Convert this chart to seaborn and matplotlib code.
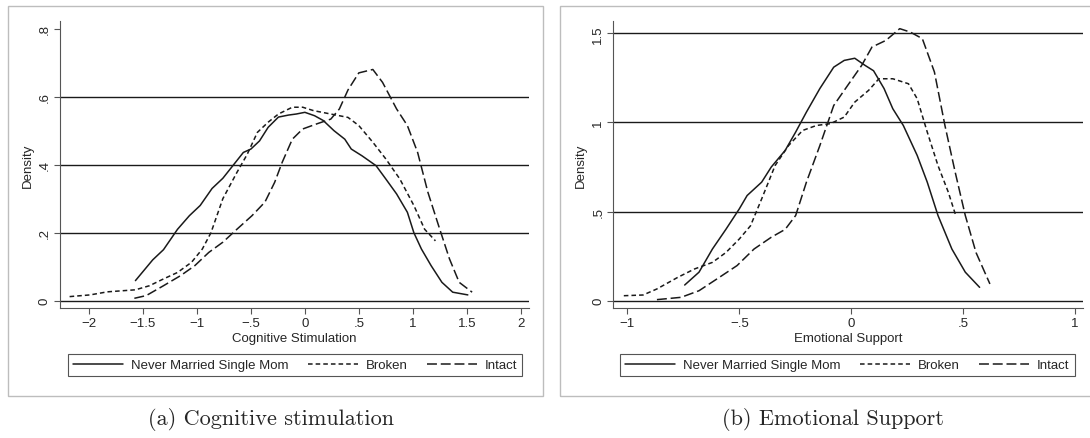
import seaborn as sns
import matplotlib.pyplot as plt
import pandas as pd
from matplotlib.lines import Line2D
from matplotlib.patches import Rectangle

# ---- data (kernel density curves) ----
groups = ['Never Married Single Mom', 'Broken', 'Intact']

# (a) Cognitive stimulation
cog_never_x = [-1.57, -1.41, -1.31, -1.18, -1.07, -0.97, -0.86, -0.76, -0.66, -0.57, -0.50,
               -0.42, -0.34, -0.245, -0.15, -0.08, 0.0, 0.09, 0.17, 0.27, 0.37, 0.43, 0.53,
               0.66, 0.75, 0.85, 0.95, 1.01, 1.08, 1.17, 1.27, 1.37, 1.51]
cog_never_y = [0.059, 0.12, 0.15, 0.21, 0.25, 0.28, 0.33, 0.36, 0.40, 0.436, 0.446,
               0.47, 0.51, 0.54, 0.546, 0.549, 0.554, 0.544, 0.53, 0.50, 0.475, 0.446, 0.426,
               0.397, 0.358, 0.314, 0.26, 0.20, 0.152, 0.103, 0.054, 0.025, 0.017]
cog_broken_x = [-2.18, -1.99, -1.83, -1.57, -1.44, -1.31, -1.18, -1.05, -0.95, -0.87, -0.76,
                -0.63, -0.535, -0.44, -0.34, -0.245, -0.116, -0.02, 0.08, 0.24, 0.40, 0.50,
                0.63, 0.75, 0.88, 1.01, 1.11, 1.21]
cog_broken_y = [0.012, 0.017, 0.026, 0.032, 0.044, 0.064, 0.083, 0.113, 0.152, 0.20, 0.30,
                0.377, 0.43, 0.495, 0.525, 0.549, 0.569, 0.569, 0.559, 0.549, 0.539, 0.515,
                0.466, 0.417, 0.358, 0.28, 0.21, 0.176]
cog_intact_x = [-1.58, -1.47, -1.31, -1.15, -1.02, -0.89, -0.76, -0.63, -0.49, -0.37, -0.28,
                -0.21, -0.116, -0.02, 0.11, 0.24, 0.32, 0.40, 0.50, 0.63, 0.72, 0.85, 0.95,
                1.045, 1.14, 1.24, 1.34, 1.43, 1.55]
cog_intact_y = [0.007, 0.015, 0.044, 0.074, 0.103, 0.142, 0.172, 0.21, 0.25, 0.29, 0.348,
                0.407, 0.475, 0.505, 0.52, 0.534, 0.564, 0.62, 0.67, 0.68, 0.642, 0.564, 0.515,
                0.436, 0.319, 0.22, 0.123, 0.054, 0.025]

# (b) Emotional support
emo_never_x = [-0.744, -0.68, -0.62, -0.56, -0.50, -0.465, -0.40, -0.357, -0.295, -0.248,
               -0.20, -0.14, -0.078, -0.031, 0.016, 0.062, 0.10, 0.147, 0.186, 0.233, 0.295,
               0.34, 0.388, 0.45, 0.51, 0.574]
emo_never_y = [0.088, 0.16, 0.29, 0.40, 0.515, 0.59, 0.665, 0.75, 0.843, 0.946,
               1.058, 1.19, 1.31, 1.348, 1.36, 1.32, 1.29, 1.19, 1.077, 0.983, 0.815,
               0.665, 0.478, 0.29, 0.16, 0.075]
emo_broken_x = [-1.016, -0.93, -0.868, -0.775, -0.70, -0.62, -0.56, -0.50, -0.45, -0.40,
                -0.34, -0.28, -0.217, -0.155, -0.093, -0.031, 0.016, 0.078, 0.124, 0.186,
                0.256, 0.295, 0.34, 0.388, 0.434, 0.465]
emo_broken_y = [0.028, 0.032, 0.066, 0.131, 0.178, 0.215, 0.27, 0.346, 0.42, 0.571,
                0.758, 0.87, 0.955, 0.983, 0.993, 1.03, 1.114, 1.18, 1.245, 1.245,
                1.217, 1.133, 0.946, 0.758, 0.609, 0.487]
emo_intact_x = [-0.868, -0.76, -0.68, -0.60, -0.51, -0.434, -0.357, -0.295, -0.248, -0.20,
                -0.14, -0.078, -0.0155, 0.047, 0.093, 0.155, 0.217, 0.264, 0.318, 0.372,
                0.419, 0.465, 0.51, 0.558, 0.62]
emo_intact_y = [0.006, 0.019, 0.056, 0.122, 0.197, 0.29, 0.356, 0.40, 0.478, 0.665,
                0.87, 1.095, 1.208, 1.32, 1.423, 1.46, 1.526, 1.507, 1.47, 1.283,
                0.983, 0.72, 0.478, 0.27, 0.094]

# ticks / labels
cog_xticks = [-2, -1.5, -1, -0.5, 0, 0.5, 1, 1.5, 2]
cog_xlabels = ['\u22122', '\u22121.5', '\u22121', '\u2212.5', '0', '.5', '1', '1.5', '2']
cog_yticks = [0, 0.2, 0.4, 0.6, 0.8]
cog_ylabels = ['0', '.2', '.4', '.6', '.8']
cog_grid = [0, 0.2, 0.4, 0.6]
emo_xticks = [-1, -0.5, 0, 0.5, 1]
emo_xlabels = ['\u22121', '\u2212.5', '0', '.5', '1']
emo_yticks = [0, 0.5, 1, 1.5]
emo_ylabels = ['0', '.5', '1', '1.5']
emo_grid = [0, 0.5, 1, 1.5]


def long_df(xs, ys):
    parts = []
    for g, x, y in zip(groups, xs, ys):
        parts.append(pd.DataFrame({'x': x, 'density': y, 'group': g}))
    return pd.concat(parts, ignore_index=True)


cog_df = long_df([cog_never_x, cog_broken_x, cog_intact_x],
                 [cog_never_y, cog_broken_y, cog_intact_y])
emo_df = long_df([emo_never_x, emo_broken_x, emo_intact_x],
                 [emo_never_y, emo_broken_y, emo_intact_y])

sns.set_theme(style='white')
plt.rcParams['font.family'] = ['Liberation Sans', 'DejaVu Sans']

dash_map = {'Never Married Single Mom': '', 'Broken': (3, 2), 'Intact': (6.5, 2.5)}
ink = '#1a1a1a'

fig = plt.figure(figsize=(10.9, 4.39), dpi=100)
W, H = 1090.0, 439.0

# grey frames around each sub-figure
fig.patches.append(Rectangle((8 / W, 1 - 397 / H), (543 - 8) / W, (397 - 7) / H,
                             transform=fig.transFigure, fill=False, ec='#bdbdbd', lw=1))
fig.patches.append(Rectangle((560 / W, 1 - 397 / H), (1110 - 560) / W, (397 - 7) / H,
                             transform=fig.transFigure, fill=False, ec='#bdbdbd', lw=1))

ax1 = fig.add_axes([60 / W, 1 - 309.3 / H, (529 - 60) / W, (309.3 - 22) / H])
ax2 = fig.add_axes([613.3 / W, 1 - 309.3 / H, (1083 - 613.3) / W, (309.3 - 22) / H])

panels = [
    (ax1, cog_df, cog_xticks, cog_xlabels, cog_yticks, cog_ylabels, cog_grid,
     (-2.269, 2.077), (-0.0224, 0.8226), 'Cognitive Stimulation'),
    (ax2, emo_df, emo_xticks, emo_xlabels, emo_yticks, emo_ylabels, emo_grid,
     (-1.063, 1.036), (-0.0426, 1.569), 'Emotional Support'),
]

for ax, df, xt, xl, yt, yl, grid, xlim, ylim, xlabel in panels:
    for g in grid:
        ax.axhline(g, color=ink, lw=1.0, zorder=1)
    sns.lineplot(data=df, x='x', y='density', style='group', dashes=dash_map,
                 color=ink, lw=1.1, sort=False, legend=False, ax=ax, zorder=2)
    ax.set_xlim(*xlim)
    ax.set_ylim(*ylim)
    ax.set_xticks(xt)
    ax.set_xticklabels(xl, fontsize=9.5)
    ax.set_yticks(yt)
    ax.set_yticklabels(yl, fontsize=9.5, rotation=90, va='center')
    ax.set_xlabel(xlabel, fontsize=9.5, labelpad=2)
    ax.set_ylabel('Density', fontsize=9.5, labelpad=4)
    ax.tick_params(axis='both', direction='out', length=4.5, width=0.8,
                   color='#555555', pad=2, bottom=True, left=True)
    for s in ['top', 'right']:
        ax.spines[s].set_visible(False)
    for s in ['left', 'bottom']:
        ax.spines[s].set_color('#555555')
        ax.spines[s].set_linewidth(0.8)
    ax.set_facecolor('none')

# legends below each panel
handles = [Line2D([], [], color=ink, lw=1.1, linestyle='-'),
           Line2D([], [], color=ink, lw=1.1, dashes=(3, 2)),
           Line2D([], [], color=ink, lw=1.1, dashes=(6.5, 2.5))]
for x0, x1 in [(65, 525), (616, 1079)]:
    leg = fig.legend(handles, groups, loc='center', ncol=3,
                     bbox_to_anchor=((x0 + x1) / 2 / W, 1 - 366 / H),
                     bbox_transform=fig.transFigure, fontsize=9.5,
                     handlelength=3.8, handletextpad=0.6, columnspacing=1.45,
                     borderpad=0.4, fancybox=False, framealpha=1,
                     edgecolor='#555555')
    leg.get_frame().set_linewidth(0.8)

# sub-figure captions
fig.text(271 / W, 1 - 420 / H, '(a) Cognitive stimulation', ha='center', va='center',
         fontsize=16, family=['cmr10', 'DejaVu Serif'])
fig.text(833 / W, 1 - 420 / H, '(b) Emotional Support', ha='center', va='center',
         fontsize=16, family=['cmr10', 'DejaVu Serif'])

plt.savefig('out.png', dpi=100)
